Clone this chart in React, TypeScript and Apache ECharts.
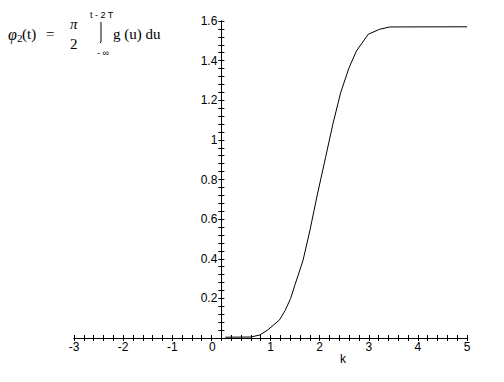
import React, { useEffect, useRef } from "react";
import * as echarts from "echarts";

const xValues = [0.08, 0.6, 0.78, 0.94, 1.18, 1.3, 1.41, 1.5, 1.66, 1.8, 1.95, 2.12, 2.27, 2.43, 2.6, 2.75, 2.99, 3.22, 3.43, 5];
const yValues = [0.004, 0.005, 0.015, 0.04, 0.09, 0.14, 0.2, 0.27, 0.39, 0.54, 0.72, 0.91, 1.08, 1.24, 1.365, 1.449, 1.533, 1.558, 1.57, 1.5708];
const xAxisName = "k";

const GRID_LEFT = 74;
const GRID_RIGHT = 37;
const X_MIN = -3;
const X_MAX = 5;

export default function App() {
  const ref = useRef<HTMLDivElement>(null);
  useEffect(() => {
    if (!ref.current) return;
    const chart = echarts.init(ref.current, null, { renderer: "svg" });
    const black = "#000";
    const labelFont = { color: black, fontFamily: "Liberation Sans", fontSize: 12 };
    const serif = "Liberation Serif";
    const plotW = 504 - GRID_LEFT - GRID_RIGHT;
    const zeroOffset = -((0 - X_MIN) / (X_MAX - X_MIN)) * plotW;
    const mkX = (inside: boolean, labels: boolean) => ({
      type: "value",
      min: X_MIN,
      max: X_MAX,
      interval: 1,
      position: "bottom",
      axisLine: { show: true, onZero: false, lineStyle: { color: black, width: 1 } },
      axisTick: { show: true, inside, length: 3, lineStyle: { color: black } },
      minorTick: { show: true, splitNumber: 5, length: 3, lineStyle: { color: black } },
      splitLine: { show: false },
      minorSplitLine: { show: false },
      axisLabel: labels
        ? {
            ...labelFont,
            margin: 3,
            formatter: (v: number) => (v === 0 ? "{z|0}" : String(v)),
            rich: { z: { ...labelFont, padding: [0, 18, 0, 0] } },
          }
        : { show: false },
    });
    const mkY = (inside: boolean, labels: boolean) => ({
      type: "value",
      min: 0,
      max: 1.6,
      interval: 0.2,
      position: "left",
      offset: zeroOffset,
      axisLine: { show: true, onZero: false, lineStyle: { color: black, width: 1 } },
      axisTick: { show: true, inside, length: 3, lineStyle: { color: black } },
      minorTick: { show: true, splitNumber: 5, length: 3, lineStyle: { color: black } },
      splitLine: { show: false },
      minorSplitLine: { show: false },
      axisLabel: labels
        ? { ...labelFont, margin: 4, formatter: (v: number) => (v === 0 ? "" : String(Math.round(v * 10) / 10)) }
        : { show: false },
    });
    const t = (text: string, x: number, y: number, font: string, extra: any = {}) => ({
      type: "text",
      style: { text, x, y, font, fill: black, textVerticalAlign: "middle", ...extra },
      silent: true,
    });
    chart.setOption({
      animation: false,
      backgroundColor: "#fff",
      grid: { left: GRID_LEFT, right: GRID_RIGHT, top: 21, bottom: 44, containLabel: false },
      xAxis: [mkX(false, true), mkX(true, false)],
      yAxis: [mkY(false, true), mkY(true, false)],
      series: [
        {
          type: "line",
          xAxisIndex: 0,
          yAxisIndex: 0,
          data: xValues.map((x, i) => [x, yValues[i]]),
          showSymbol: false,
          symbol: "none",
          lineStyle: { color: black, width: 1 },
        },
      ],
      graphic: [
        t(xAxisName, 340, 359, "12px Liberation Sans"),
        t("φ", 8, 34, `italic 16px ${serif}`),
        t("2", 17, 38, `11px ${serif}`),
        t("(t)", 22, 34, `15px ${serif}`),
        t("=", 46, 34, `15px ${serif}`),
        t("π", 70, 24, `italic 15px ${serif}`),
        t("2", 70, 44, `15px ${serif}`),
        t("t - 2 T", 90, 15, "9px Liberation Sans"),
        {
          type: "polyline",
          shape: { points: [[101, 22], [101, 42], [100, 43]] },
          style: { stroke: black, lineWidth: 1, fill: "none" },
          silent: true,
        },
        t("- ∞", 97, 53, "9px Liberation Sans"),
        t("g (u) du", 113, 34, `15px ${serif}`),
      ],
    });
    return () => chart.dispose();
  }, []);
  return (
    <div
      ref={ref}
      style={{ position: "absolute", left: 0, top: 0, width: 504, height: 382, background: "#fff" }}
    />
  );
}
